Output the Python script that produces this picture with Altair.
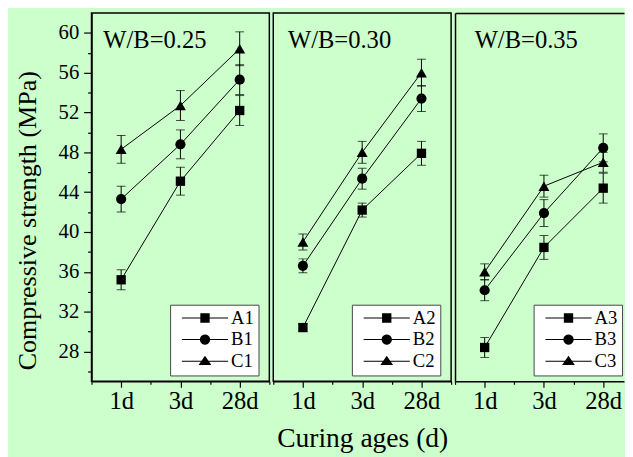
import json
import math
import altair as alt
import pandas as pd

# ---------------- data ----------------
ages = ["1d", "3d", "28d"]
panel_titles = ["W/B=0.25", "W/B=0.30", "W/B=0.35"]
series_keys = ["A", "B", "C"]
legend_labels = [["A1", "B1", "C1"], ["A2", "B2", "C2"], ["A3", "B3", "C3"]]

# W/B = 0.25
p1_A = [35.2, 45.1, 52.2]
p1_A_err = [1.0, 1.4, 1.5]
p1_B = [43.3, 48.8, 55.3]
p1_B_err = [1.3, 1.45, 1.5]
p1_C = [48.3, 52.7, 58.4]
p1_C_err = [1.4, 1.5, 1.7]

# W/B = 0.30
p2_A = [30.4, 42.2, 47.9]
p2_A_err = [0.4, 0.7, 1.2]
p2_B = [36.6, 45.35, 53.4]
p2_B_err = [0.7, 1.05, 1.3]
p2_C = [39.0, 48.0, 56.0]
p2_C_err = [0.8, 1.1, 1.35]

# W/B = 0.35
p3_A = [28.4, 38.45, 44.4]
p3_A_err = [1.0, 1.2, 1.5]
p3_B = [34.15, 41.9, 48.45]
p3_B_err = [1.05, 1.35, 1.4]
p3_C = [36.0, 44.6, 47.0]
p3_C_err = [0.8, 1.1, 1.0]

y_ticks = list(range(26, 62, 2))

panel_values = [
    [(p1_A, p1_A_err), (p1_B, p1_B_err), (p1_C, p1_C_err)],
    [(p2_A, p2_A_err), (p2_B, p2_B_err), (p2_C, p2_C_err)],
    [(p3_A, p3_A_err), (p3_B, p3_B_err), (p3_C, p3_C_err)],
]

# ---------------- layout / style ----------------
FONT = "Liberation Serif"
BG = "#ccffcc"
panel_widths = [181, 181, 172]
PLOT_H = 375
x_max = [2.5, 2.5, -0.5 + 172 / 60.33]
title_dx = [12, 15, 20]

# legend symbols (custom paths; unit = sqrt(size)/2 = 5 px)
line_part = "M-4.7,-0.1H4.7V0.1H-4.7Z"
sq_path = line_part + "M-0.95,-0.95H0.95V0.95H-0.95Z"
circ_pts = []
for k in range(20):
    a = 2 * math.pi * k / 20
    circ_pts.append(f"{1.05 * math.cos(a):.3f},{1.05 * math.sin(a):.3f}")
circ_path = line_part + "M" + "L".join(circ_pts) + "Z"
tri_path = line_part + "M0,-1.1L1.3,0.75L-1.3,0.75Z"
legend_paths = [sq_path, circ_path, tri_path]

x_label_expr = f"datum.value % 1 == 0 ? {json.dumps(ages)}[datum.value] : ''"


def make_df(i):
    rows = []
    for s, key in enumerate(series_keys):
        vals, errs = panel_values[i][s]
        for j, age in enumerate(ages):
            rows.append({
                "age": age,
                "xi": ages.index(age),
                "series": key,
                "label": legend_labels[i][s],
                "mean": vals[j],
                "lo": vals[j] - errs[j],
                "hi": vals[j] + errs[j],
            })
    return pd.DataFrame(rows)


def panel(i):
    df = make_df(i)
    base = alt.Chart(df)
    xscale = alt.Scale(domain=[-0.5, x_max[i]], nice=False, zero=False)
    yscale = alt.Scale(domain=[25, 62], nice=False, zero=False)

    n_half = int(math.floor(x_max[i] * 2 + 1e-9))
    x_vals = [k / 2 for k in range(-1, n_half + 1)]
    x_axis = alt.Axis(
        values=x_vals,
        labelExpr=x_label_expr,
        tickSize={"condition": {"test": "datum.value % 1 == 0", "value": 6}, "value": 3},
        labelPadding=2,
        labelFontSize=25,
        labelOverlap=False,
        labelFlush=False,
        title="Curing ages (d)" if i == 1 else None,
        titleFontSize=28,
        titlePadding=11,
    )
    if i == 0:
        y_axis = alt.Axis(
            values=y_ticks,
            labelExpr="datum.value % 4 == 0 ? datum.label : ''",
            tickSize={"condition": {"test": "datum.value % 4 == 0", "value": 8}, "value": 4},
            labelPadding=5,
            labelFontSize=21,
            labelOverlap=False,
            labelFlush=False,
            title="Compressive strength  (MPa)",
            titleFontSize=26.5,
            titleX=-65,
            titleY=211,
            titleBaseline="middle",
        )
    elif i == 2:
        y_axis = alt.Axis(labels=False, ticks=False, domain=True, title=None)
    else:
        y_axis = None

    top_axis = (alt.Axis(orient="top", labels=False, ticks=False, domain=True, title=None)
                if i == 2 else None)

    rules = base.mark_rule(color="black", strokeWidth=1).encode(
        x=alt.X("xi:Q", scale=xscale, axis=top_axis),
        y=alt.Y("lo:Q", scale=yscale, axis=None),
        y2="hi:Q",
    )
    caps_lo = base.mark_tick(orient="horizontal", size=9, thickness=1, color="black").encode(
        x=alt.X("xi:Q", scale=xscale, axis=None),
        y=alt.Y("lo:Q", scale=yscale, axis=None),
    )
    caps_hi = base.mark_tick(orient="horizontal", size=9, thickness=1, color="black").encode(
        x=alt.X("xi:Q", scale=xscale, axis=None),
        y=alt.Y("hi:Q", scale=yscale, axis=None),
    )
    lines = base.mark_line(color="black", strokeWidth=1).encode(
        x=alt.X("xi:Q", scale=xscale, axis=None),
        y=alt.Y("mean:Q", scale=yscale, axis=None),
        detail="series:N",
    )
    points = base.mark_point(filled=True, color="black", opacity=1).encode(
        x=alt.X("xi:Q", scale=xscale, axis=x_axis),
        y=alt.Y("mean:Q", scale=yscale, axis=y_axis),
        shape=alt.Shape("series:N", scale=alt.Scale(domain=series_keys,
                                                    range=["square", "circle", "triangle-up"]),
                        legend=None),
        size=alt.Size("series:N", scale=alt.Scale(domain=series_keys, range=[90, 125, 150]),
                      legend=None),
    )
    legend_layer = base.transform_filter("false").mark_point(
        filled=True, color="black", opacity=1, size=100
    ).encode(
        shape=alt.Shape(
            "label:N",
            scale=alt.Scale(domain=legend_labels[i], range=legend_paths),
            legend=alt.Legend(
                orient="none", legendX=80, legendY=297, title=None,
                padding=4, rowPadding=2,
                strokeColor="#444444", fillColor="white",
                labelFont=FONT, labelFontSize=19, labelColor="black",
                symbolSize=100, symbolOffset=22, labelOffset=17,
                symbolStrokeWidth=0, symbolFillColor="black",
            ),
        )
    )
    label = alt.Chart(pd.DataFrame({"t": [panel_titles[i]]})).mark_text(
        align="left", baseline="alphabetic", font=FONT, fontSize=25, color="black"
    ).encode(text="t:N", x=alt.value(title_dx[i]), y=alt.value(36))

    layer = alt.layer(points, rules, caps_lo, caps_hi, lines, legend_layer, label).resolve_scale(
        shape="independent", size="independent"
    ).resolve_axis(x="independent", y="independent").properties(
        width=panel_widths[i], height=PLOT_H
    )
    if i == 2:
        layer = layer.properties(view=alt.ViewBackground(stroke="transparent"))
    return layer


chart = alt.hconcat(panel(0), panel(1), panel(2), spacing=0).resolve_scale(
    x="independent", shape="independent", size="independent"
).properties(
    background=BG,
    padding={"left": 6, "top": 0, "right": 0, "bottom": 0},
).configure_view(
    stroke="black", strokeWidth=1.5
).configure_axis(
    grid=False,
    domainColor="black", domainWidth=1.5,
    tickColor="black", tickWidth=1.2,
    labelColor="black", labelFont=FONT,
    titleColor="black", titleFont=FONT, titleFontWeight="normal",
)

chart.save("out.html", embed_options={"renderer": "svg", "actions": False})
